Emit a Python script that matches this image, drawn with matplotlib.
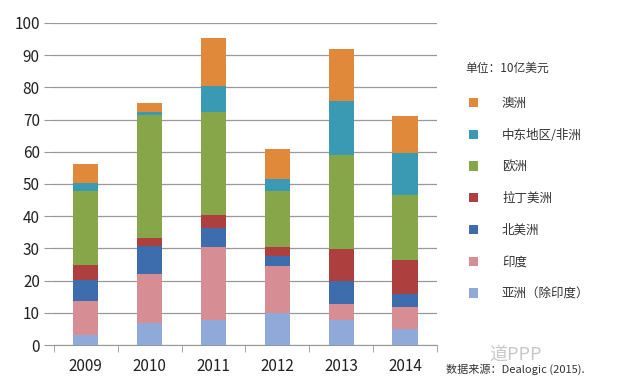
import matplotlib.pyplot as plt
import numpy as np

plt.rcParams['font.family'] = ['Noto Sans CJK SC', 'DejaVu Sans']

years = ['2009', '2010', '2011', '2012', '2013', '2014']
# 单位：10亿美元（按堆叠顺序，从下到上）
asia = [3.0, 6.8, 7.9, 9.9, 7.9, 5.1]
india = [10.8, 15.2, 22.5, 14.6, 4.9, 6.7]
north_america = [6.3, 8.8, 6.0, 3.1, 7.0, 4.1]
latin_america = [4.7, 2.3, 4.0, 2.9, 10.1, 10.6]
europe = [22.9, 38.2, 32.1, 17.3, 29.0, 20.2]
mideast_africa = [2.5, 1.2, 7.8, 3.6, 17.0, 13.0]
australia = [5.9, 2.6, 14.9, 9.5, 16.1, 11.3]

names = ['亚洲（除印度）', '印度', '北美洲', '拉丁美洲', '欧洲', '中东地区/非洲', '澳洲']
series = [asia, india, north_america, latin_america, europe, mideast_africa, australia]
colors = ['#8FAAD8', '#D68D93', '#3E6DAE', '#AE3F3F', '#87A64A', '#3A9AB4', '#E0893A']

fig = plt.figure(figsize=(6.4, 3.89), dpi=100)
ax = fig.add_axes([0.084, 0.113, 0.599, 0.828])

x = np.arange(len(years))
bottom = np.zeros(len(years))
handles = []
for vals, c, n in zip(series, colors, names):
    b = ax.bar(x, vals, 0.4, bottom=bottom, color=c, label=n, zorder=3)
    handles.append(b)
    bottom += np.array(vals)

ax.set_xlim(-0.5, len(years) - 0.5)
ax.set_ylim(0, 100)
ax.set_yticks(range(0, 101, 10))
ax.yaxis.grid(True, color='#999999', linewidth=0.9, zorder=0)
ax.set_axisbelow(True)
ax.tick_params(axis='y', length=7, color='#999999', labelsize=11, pad=3, labelcolor='#222222')
for s in ['top', 'right', 'left']:
    ax.spines[s].set_visible(False)
ax.spines['bottom'].set_color('#999999')

ax.set_xticks(x)
ax.set_xticklabels(years, fontsize=11, color='#222222')
ax.tick_params(axis='x', length=0, pad=9)
ax.set_xticks(np.arange(-0.5, len(years), 1), minor=True)
ax.tick_params(axis='x', which='minor', length=5, color='#999999')

fig.text(0.727, 0.825, '单位：10亿美元', fontsize=8.5, color='#333333', va='center')
leg = fig.legend(handles[::-1], names[::-1], loc='upper left',
                 bbox_to_anchor=(0.715, 0.78), frameon=False, fontsize=9,
                 handlelength=0.75, handleheight=0.75, handletextpad=1.9,
                 labelspacing=1.5, labelcolor='#333333')

fig.text(0.697, 0.052, '数据来源：Dealogic (2015).', fontsize=8, color='#333333', va='center')
fig.text(0.765, 0.088, '道PPP', fontsize=13, color='#c8c8c8', va='center')

fig.savefig('out.png', dpi=100)
